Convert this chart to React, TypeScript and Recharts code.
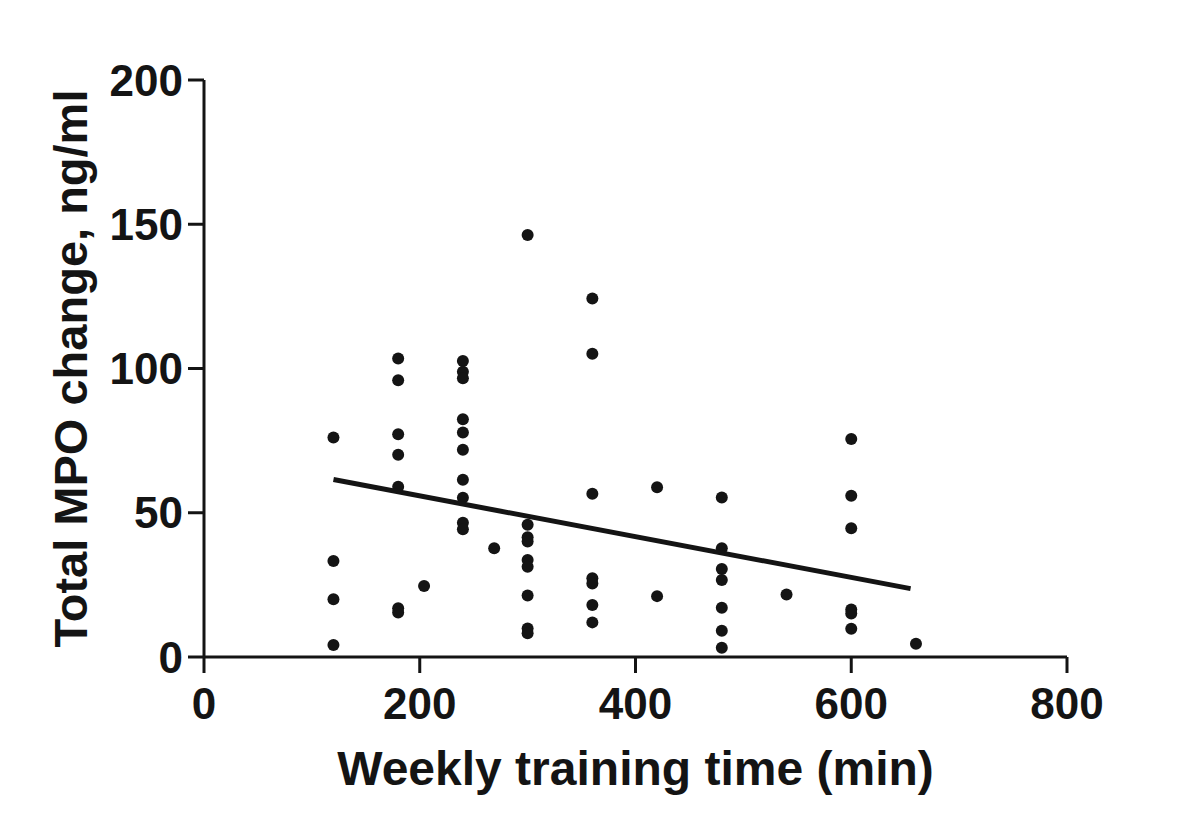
import React from "react";
import { ScatterChart, Scatter, XAxis, YAxis } from "recharts";

const weeklyMinutes = [
  120, 120, 120, 120,
  180, 180, 180, 180, 180, 180, 180,
  204,
  240, 240, 240, 240, 240, 240, 240, 240, 240, 240,
  269,
  300, 300, 300, 300, 300, 300, 300, 300, 300,
  360, 360, 360, 360, 360, 360, 360,
  420, 420,
  480, 480, 480, 480, 480, 480, 480,
  540,
  600, 600, 600, 600, 600, 600,
  660,
];

const mpoChange = [
  76.1, 33.3, 20.0, 4.2,
  103.5, 95.9, 77.2, 70.1, 59.0, 16.9, 15.4,
  24.6,
  102.6, 98.9, 96.6, 82.4, 77.8, 71.8, 61.4, 55.2, 46.5, 44.3,
  37.7,
  146.3, 45.8, 41.5, 40.0, 33.6, 31.3, 21.3, 9.9, 8.2,
  124.3, 105.1, 56.6, 27.3, 25.5, 18.0, 12.0,
  58.8, 21.1,
  55.3, 37.7, 30.5, 26.7, 17.1, 9.1, 3.2,
  21.7,
  75.6, 55.9, 44.6, 16.5, 15.1, 9.8,
  4.6,
];

const fitX = [120, 655];
const fitY = [61.5, 23.7];

const xTicks = [0, 200, 400, 600, 800];
const yTicks = [0, 50, 100, 150, 200];

const points = weeklyMinutes.map((x, i) => ({ x, y: mpoChange[i] }));
const fitLine = fitX.map((x, i) => ({ x, y: fitY[i] }));

const INK = "#141414";
const FONT = "'Liberation Sans', Arial, sans-serif";

const Dot = (props: any) => (
  <circle cx={props.cx} cy={props.cy} r={6} fill={INK} />
);
const NoShape = () => <g />;

const XTitle = (props: any) => {
  const vb = props.viewBox;
  return (
    <text
      x={vb.x + vb.width / 2}
      y={vb.y + 128}
      textAnchor="middle"
      fill={INK}
      fontFamily={FONT}
      fontWeight={700}
      fontSize={48}
    >
      Weekly training time (min)
    </text>
  );
};

const YTitle = (props: any) => {
  const vb = props.viewBox;
  const cx = vb.x + 87;
  const cy = vb.y + vb.height / 2;
  return (
    <text
      x={cx}
      y={cy}
      textAnchor="middle"
      transform={`rotate(-90, ${cx}, ${cy})`}
      fill={INK}
      fontFamily={FONT}
      fontWeight={700}
      fontSize={47}
    >
      Total MPO change, ng/ml
    </text>
  );
};

const tickStyle = {
  fill: INK,
  fontFamily: FONT,
  fontWeight: 700,
  fontSize: 44,
};

export default function App() {
  return (
    <div style={{ position: "absolute", left: 0, top: 0, background: "#fff" }}>
      <ScatterChart
        width={1200}
        height={834}
        margin={{ top: 80, right: 133, left: 0, bottom: 0 }}
      >
        <XAxis
          type="number"
          dataKey="x"
          domain={[0, 800]}
          ticks={xTicks}
          interval={0}
          height={177}
          tickSize={16}
          tickMargin={15}
          axisLine={{ stroke: INK, strokeWidth: 3 }}
          tickLine={{ stroke: INK, strokeWidth: 3 }}
          tick={tickStyle}
          label={<XTitle />}
          allowDataOverflow
        />
        <YAxis
          type="number"
          dataKey="y"
          domain={[0, 200]}
          ticks={yTicks}
          interval={0}
          width={204}
          tickSize={16}
          tickMargin={5}
          axisLine={{ stroke: INK, strokeWidth: 3 }}
          tickLine={{ stroke: INK, strokeWidth: 3 }}
          tick={tickStyle}
          label={<YTitle />}
          allowDataOverflow
        />
        <Scatter
          data={points}
          shape={<Dot />}
          isAnimationActive={false}
        />
        <Scatter
          data={fitLine}
          line={{ stroke: INK, strokeWidth: 5 }}
          shape={<NoShape />}
          isAnimationActive={false}
        />
      </ScatterChart>
    </div>
  );
}
